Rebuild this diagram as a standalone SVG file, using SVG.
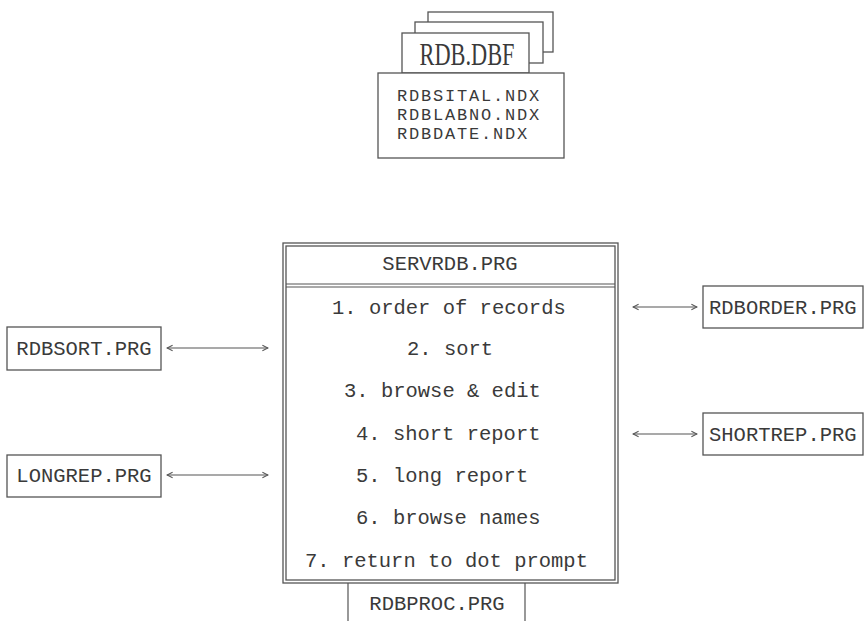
<svg xmlns="http://www.w3.org/2000/svg" width="865" height="621" viewBox="0 0 865 621">
<defs>
<style>
.b{fill:#fff;stroke:#555;stroke-width:1.3}
.t{font-family:"Liberation Mono","Courier New",monospace;font-size:20.5px;fill:#3a3a3a}
.c{text-anchor:middle}
.n{font-size:17px;letter-spacing:1.8px}
.ln{stroke:#555;stroke-width:1.2;fill:none}
</style>
<marker id="ah" viewBox="0 0 10 10" refX="9" refY="5" markerWidth="8" markerHeight="8" markerUnits="userSpaceOnUse" orient="auto-start-reverse">
<path d="M2,1.5 L9,5 L2,8.5" fill="none" stroke="#555" stroke-width="1.3"/>
</marker>
</defs>
<rect width="865" height="621" fill="#fff"/>

<g id="rdb-dbf">
<rect class="b" x="428" y="12" width="125" height="40"/>
<rect class="b" x="415" y="22" width="128" height="41"/>
<rect class="b" x="402" y="33" width="127" height="40"/>
<text x="467" y="65" class="t c" style="font-family:'Liberation Serif',serif;font-size:31px" textLength="95" lengthAdjust="spacingAndGlyphs">RDB.DBF</text>
<rect class="b" x="378" y="73" width="186" height="85"/>
<text x="397" y="101" class="t n">RDBSITAL.NDX</text>
<text x="397" y="120" class="t n">RDBLABNO.NDX</text>
<text x="397" y="139" class="t n">RDBDATE.NDX</text>
</g>

<g id="servrdb">
<rect class="b" x="283" y="243" width="335" height="340"/>
<rect class="b" x="286" y="246" width="329" height="334"/>
<line class="ln" x1="286" y1="284" x2="615" y2="284"/>
<line class="ln" x1="286" y1="287" x2="615" y2="287"/>
<text x="450" y="270" class="t c">SERVRDB.PRG</text>
<text x="332" y="314" class="t">1. order of records</text>
<text x="407" y="355" class="t">2. sort</text>
<text x="344" y="397" class="t">3. browse &amp; edit</text>
<text x="356" y="440" class="t">4. short report</text>
<text x="356" y="482" class="t">5. long report</text>
<text x="356" y="524" class="t">6. browse names</text>
<text x="305" y="567" class="t">7. return to dot prompt</text>
</g>

<g id="rdbproc">
<path class="ln" d="M348,583 V625 M525,583 V625"/>
<text x="437" y="610" class="t c">RDBPROC.PRG</text>
</g>

<g id="rdbsort">
<rect class="b" x="7" y="327" width="154" height="43"/>
<text x="84" y="355" class="t c">RDBSORT.PRG</text>
</g>
<g id="longrep">
<rect class="b" x="7" y="455" width="154" height="42"/>
<text x="84" y="482" class="t c">LONGREP.PRG</text>
</g>
<g id="rdborder">
<rect class="b" x="703" y="286" width="160" height="42"/>
<text x="709" y="314" class="t">RDBORDER.PRG</text>
</g>
<g id="shortrep">
<rect class="b" x="703" y="413" width="160" height="42"/>
<text x="709" y="441" class="t">SHORTREP.PRG</text>
</g>

<g id="connectors">
<line class="ln" x1="167" y1="348" x2="268" y2="348" marker-start="url(#ah)" marker-end="url(#ah)"/>
<line class="ln" x1="167" y1="475" x2="268" y2="475" marker-start="url(#ah)" marker-end="url(#ah)"/>
<line class="ln" x1="633" y1="307" x2="697" y2="307" marker-start="url(#ah)" marker-end="url(#ah)"/>
<line class="ln" x1="633" y1="434" x2="697" y2="434" marker-start="url(#ah)" marker-end="url(#ah)"/>
</g>
</svg>
